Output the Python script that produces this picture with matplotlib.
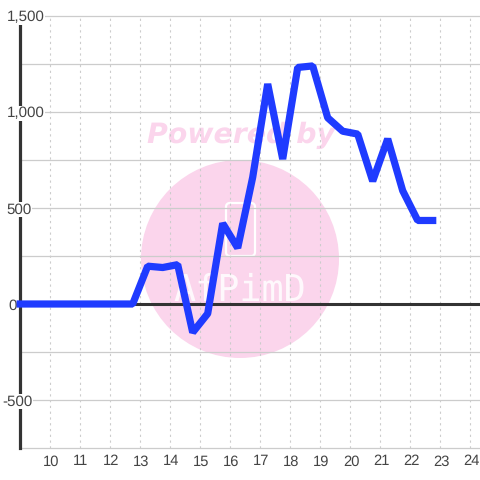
import matplotlib
matplotlib.use("Agg")
import matplotlib.pyplot as plt
from matplotlib.patches import Circle, FancyBboxPatch
from matplotlib.transforms import Affine2D, blended_transform_factory

plt.rcParams["text.hinting"] = "no_hinting"

hours = [9.0, 9.25, 9.75, 10.25, 10.75, 11.25, 11.75, 12.25, 12.75, 13.25, 13.75, 14.25, 14.75,
         15.25, 15.75, 16.25, 16.75, 17.25, 17.75, 18.25, 18.75, 19.25, 19.75, 20.25,
         20.75, 21.25, 21.75, 22.25, 22.75]
values = [0, 0, 0, 0, 0, 0, 0, 0, 0, 197, 190, 205, -148, -50, 420, 292, 660, 1146, 755,
          1232, 1240, 970, 900, 885, 640, 860, 590, 435, 435]
x_ticks = list(range(10, 25))
y_grid = [-750, -500, -250, 0, 250, 500, 750, 1000, 1250, 1500]
y_labels = {1500: "1,500", 1000: "1,000", 500: "500", 0: "0", -500: "-500"}
y_label_px = {1500: 6.5, 1000: 6.5, 500: 6.5, 0: 8, -500: 2.5}

W = 480.0
FONT = "Liberation Sans"
TXT = "#444444"
GRID = "#cccccc"
PINK = "#fbd5ec"

fig = plt.figure(figsize=(4.8, 4.8), dpi=100, facecolor="white")
ax = fig.add_axes([20.2 / W, (W - 448) / W, (W - 20.2) / W, (448 - 16) / W])
ax.set_xlim(9, 9 + (W - 20.2) / 30)
ax.set_ylim(-750, 1500)
for s in ax.spines.values():
    s.set_visible(False)
ax.tick_params(left=False, bottom=False, labelleft=False, labelbottom=False)
ax.patch.set_alpha(0)

# pixel coordinates, y measured from the top
px = Affine2D().scale(1, -1).translate(0, W)
ax.add_patch(Circle((240, 259), 99, fc=PINK, ec="none", clip_on=False, transform=px, zorder=1))
ax.text(241.5, 135, "Powered by", color=PINK, family="DejaVu Sans", weight="bold", style="italic",
        fontsize=20.4, ha="center", va="center", transform=px, zorder=1)
ax.add_patch(FancyBboxPatch((226, 203), 29, 53, boxstyle="round,pad=0,rounding_size=4",
                            fc="none", ec="white", lw=1.6, clip_on=False, transform=px, zorder=1.1))
ax.text(240, 291, "AfPimD", color="white", alpha=0.85, family="DejaVu Sans Mono", fontsize=26.5,
        ha="center", va="center", transform=px, zorder=1.1)

for v in y_grid:
    ax.axhline(v, color=GRID, lw=0.9, zorder=2, clip_on=False)
for x in x_ticks:
    ax.axvline(x, color=GRID, lw=0.8, ls=(0, (2.0, 3.2)), zorder=2)

ax.axvline(9, color="#333333", lw=2.3, zorder=3, clip_on=False)
ax.axhline(0, color="#333333", lw=2.2, zorder=3, clip_on=False)

ax.plot(hours, values, color="#1f3bff", lw=5.2, solid_joinstyle="bevel",
        solid_capstyle="projecting", zorder=6, clip_on=False)

down = Affine2D().translate(0, -1.5)
xb = blended_transform_factory(ax.transData, px)
for x in x_ticks:
    ax.text(x, 461.5, str(x), color=TXT, family=FONT, fontsize=10.6, ha="center", va="center",
            transform=xb + Affine2D().translate(0.8, 0), clip_on=False, zorder=5)
yb = blended_transform_factory(px, ax.transData)
for v, lab in y_labels.items():
    ax.text(y_label_px[v], v, lab, color=TXT, family=FONT, fontsize=10.9, ha="left",
            va="center", transform=yb + down, clip_on=False, zorder=5,
            bbox=dict(fc="white", ec="none", pad=0.4))

fig.savefig("out.png", dpi=100, facecolor="white")
